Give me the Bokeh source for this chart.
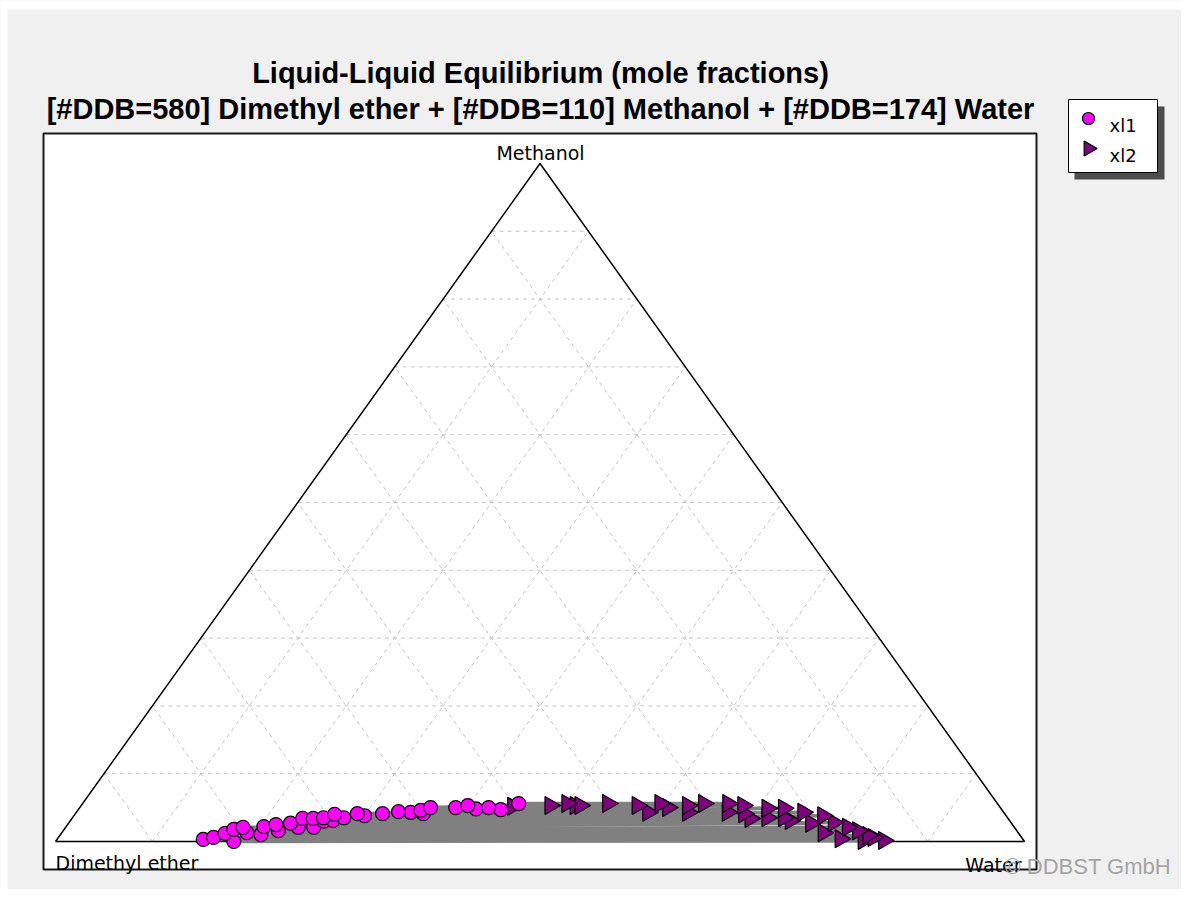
import math
from bokeh.plotting import figure
from bokeh.models import Range1d
from bokeh.core.properties import value
from bokeh.embed import file_html
from bokeh.resources import INLINE

# ---------------- data ----------------
title_lines = ["Liquid-Liquid Equilibrium (mole fractions)",
               "[#DDB=580] Dimethyl ether + [#DDB=110] Methanol + [#DDB=174] Water"]
components = ["Dimethyl ether", "Methanol", "Water"]   # left, top, right corner
series_names = ["xl1", "xl2"]
grid_ticks = [0.1, 0.2, 0.3, 0.4, 0.5, 0.6, 0.7, 0.8, 0.9]
watermark = "\u00a9 DDBST GmbH"

# phase 1 (ether rich) mole fractions, tie-line order
xl1_methanol = [0.000, 0.003, 0.006, 0.010, 0.012, 0.013, 0.016, 0.018, 0.021, 0.021,
                0.021, 0.022, 0.025, 0.027, 0.030, 0.031, 0.034, 0.034, 0.035, 0.035,
                0.038, 0.040, 0.041, 0.041, 0.041, 0.043, 0.044, 0.046, 0.047, 0.048,
                0.050, 0.050, 0.050, 0.053, 0.056]
xl1_water = [0.184, 0.151, 0.160, 0.207, 0.169, 0.191, 0.222, 0.175, 0.183, 0.240,
             0.256, 0.204, 0.215, 0.229, 0.262, 0.271, 0.238, 0.249, 0.259, 0.280,
             0.300, 0.268, 0.291, 0.317, 0.359, 0.345, 0.332, 0.354, 0.436, 0.410,
             0.362, 0.388, 0.422, 0.399, 0.450]
# phase 2 (water rich) mole fractions, tie-line order
xl2_methanol = [0.0015, 0.0015, 0.004, 0.006, 0.009, 0.013, 0.016, 0.021, 0.027, 0.028,
                0.031, 0.034, 0.035, 0.035, 0.038, 0.041, 0.043, 0.043, 0.043, 0.043,
                0.049, 0.049, 0.050, 0.052, 0.053, 0.053, 0.053, 0.053, 0.053, 0.053,
                0.056, 0.056, 0.056, 0.056, 0.056]
xl2_water = [0.833, 0.854, 0.808, 0.841, 0.834, 0.786, 0.820, 0.807, 0.766, 0.789,
             0.743, 0.700, 0.717, 0.734, 0.773, 0.690, 0.590, 0.631, 0.672, 0.750,
             0.710, 0.727, 0.607, 0.446, 0.484, 0.510, 0.515, 0.574, 0.626, 0.683,
             0.500, 0.542, 0.596, 0.641, 0.666]

# ---------------- layout ----------------
W, H = 1181, 889
TX0, TX1, TY0, TY1 = 55, 1024, 841, 163   # triangle corners on canvas (px)


def px(x):
    return (x - TX0) / (TX1 - TX0)


def py(y):
    return (TY0 - y) / (TY0 - TY1)


def cart(water, methanol):
    xs = [w + m / 2.0 for w, m in zip(water, methanol)]
    return xs, list(methanol)


p = figure(width=W, height=H, output_backend="svg", toolbar_location=None,
           x_range=Range1d(px(0), px(W)), y_range=Range1d(py(H), py(0)),
           x_axis_location=None, y_axis_location=None, min_border=0,
           background_fill_color="#f0f0f0", border_fill_color="#f0f0f0",
           outline_line_color=None)
p.grid.visible = False

# window edge strips
p.quad(left=[px(0), px(0)], right=[px(7), px(W)], top=[py(0), py(0)],
       bottom=[py(H), py(9)], fill_color="white", line_color=None)

# plot box
p.quad(left=px(43), right=px(1036), top=py(133), bottom=py(869),
       fill_color="white", line_color="#1a1a1a", line_width=2)

# ternary grid
gx, gy = [], []
for t in grid_ticks:
    gx.append([t / 2, 1 - t / 2]); gy.append([t, t])              # methanol = t
    gx.append([t, t + (1 - t) / 2]); gy.append([0, 1 - t])        # water = t
    gx.append([1 - t, (1 - t) / 2]); gy.append([0, 1 - t])        # ether = t
p.multi_line(gx, gy, line_color="#c4c4c4", line_width=1, line_dash="4 4")

# triangle edges
p.line([0, 0.5, 1, 0], [0, 1, 0, 0], line_color="black", line_width=1.5)

# tie lines
x1, y1 = cart(xl1_water, xl1_methanol)
x2, y2 = cart(xl2_water, xl2_methanol)
p.segment(x0=x1, y0=y1, x1=x2, y1=y2, line_color="#808080", line_width=3.5)

p.scatter(x2, y2, marker="triangle", angle=-math.pi / 2, size=18,
          fill_color="#800080", line_color="black", line_width=1.2)
p.scatter(x1, y1, marker="circle", size=14,
          fill_color="#ff00ff", line_color="black", line_width=1.2)

# corner labels
lab_font = value("DejaVu Sans")
p.text(x=[px(540)], y=[py(152)], text=[components[1]], text_font=lab_font,
       text_font_size="19px", text_align="center", text_baseline="alphabetic",
       text_color="black")
p.text(x=[px(55)], y=[py(862)], text=[components[0]], text_font=lab_font,
       text_font_size="19px", text_align="left", text_baseline="alphabetic",
       text_color="black")
p.text(x=[px(1021)], y=[py(864)], text=[components[2]], text_font=lab_font,
       text_font_size="19px", text_align="right", text_baseline="alphabetic",
       text_color="black")

# title
p.text(x=[px(540), px(540)], y=[py(72), py(108)], text=title_lines,
       text_font=value("Liberation Sans"), text_font_style="bold",
       text_font_size="29px", text_align="center", text_baseline="alphabetic",
       text_color="black")

# legend (shadow, box, keys, labels)
p.quad(left=px(1074), right=px(1164), top=py(106), bottom=py(179),
       fill_color="#4c4c4c", line_color=None)
p.quad(left=px(1068), right=px(1157), top=py(99), bottom=py(172),
       fill_color="white", line_color="black", line_width=1)
p.scatter([px(1088)], [py(118)], marker="circle", size=12,
          fill_color="#ff00ff", line_color="black", line_width=1.2)
p.scatter([px(1088)], [py(148)], marker="triangle", angle=-math.pi / 2, size=15,
          fill_color="#800080", line_color="black", line_width=1.2)
p.text(x=[px(1109), px(1109)], y=[py(125), py(155)], text=series_names,
       text_font=lab_font, text_font_size="18px", text_align="left",
       text_baseline="alphabetic", text_color="black")

# watermark
p.text(x=[px(1004)], y=[py(866)], text=[watermark], text_font=value("Liberation Sans"),
       text_font_size="22px", text_align="left", text_baseline="alphabetic",
       text_color="#a4a4a4")

open("out.html", "w").write(file_html(p, INLINE))
